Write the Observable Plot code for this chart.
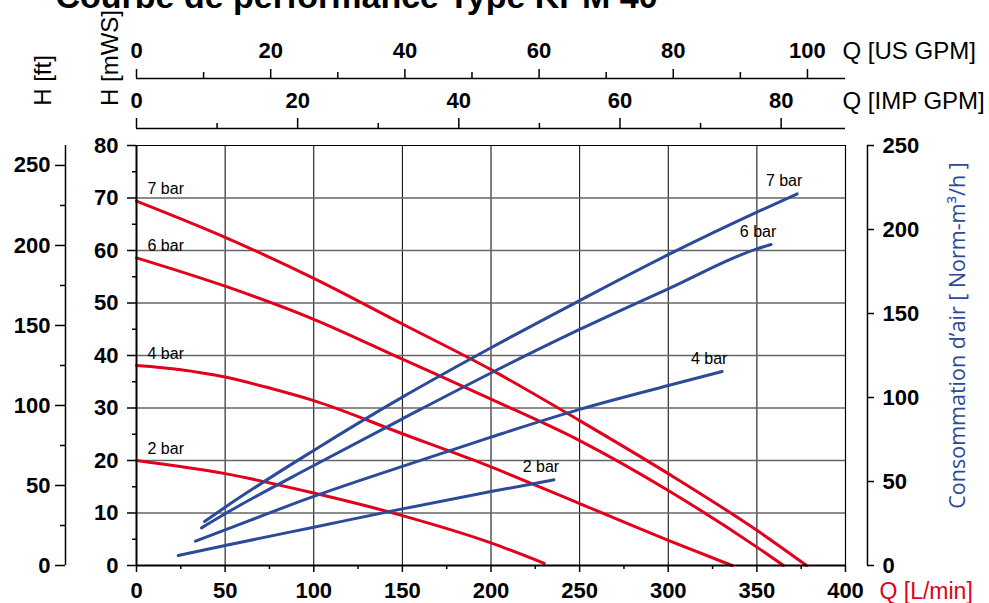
<!DOCTYPE html>
<html><head><meta charset="utf-8">
<script src="https://cdn.jsdelivr.net/npm/d3@7"></script>
<script src="https://cdn.jsdelivr.net/npm/@observablehq/plot@0.6"></script>
<style>body{margin:0;background:#fff;} #chart svg{display:block;}</style>
</head><body><div id="chart"></div>
<script>
// ---------- texts ----------
const title = "Courbe de performance Type KPM 40";
const labelQ = "Q [L/min]";
const labelUS = "Q [US GPM]";
const labelIMP = "Q [IMP GPM]";
const labelFt = "H [ft]";
const labelM = "H [mWS]";
const labelAir = "Consommation d’air [ Norm-m³/h ]";
const pressures = ["7 bar", "6 bar", "4 bar", "2 bar"];

// ---------- head curves [Q L/min, H mWS] ----------
const head7 = [[0,69.4],[50,62.5],[100,54.7],[150,46.0],[200,37.3],[250,27.6],[300,17.5],[350,6.7],[378,0]];
const head6 = [[0,58.6],[50,53.2],[100,46.9],[150,39.3],[200,31.7],[250,23.8],[300,14.3],[350,3.5],[365,0]];
const head4 = [[0,38.1],[25,37.3],[50,35.9],[75,33.8],[100,31.4],[150,25.1],[190,20.1],[250,11.8],[300,4.8],[336,0]];
const head2 = [[0,20.0],[50,17.5],[100,13.8],[150,9.5],[200,4.3],[230,0.4]];

// ---------- air consumption curves [Q L/min, Nm3/h] ----------
const air7 = [[38.4,26.2],[50,34.7],[100,68.5],[150,100.2],[200,129.6],[250,157.7],[300,185.0],[350,210.3],[372.7,221.2]];
const air6 = [[36.7,22.4],[50,30.8],[100,59.5],[150,87.3],[200,114.6],[250,140.5],[300,164.7],[350,188.5],[358,191.1]];
const air4 = [[33.3,14.5],[50,21.2],[100,41.1],[150,59.0],[200,76.4],[250,92.9],[300,107.1],[330.4,115.5]];
const air2 = [[23.5,6.0],[50,11.9],[100,22.8],[150,33.7],[200,44.0],[235.5,51.0]];

// ---------- ticks ----------
const qTicks = [0,50,100,150,200,250,300,350,400];
const qMinor = [25,75,125,175,225,275,325,375];
const hTicks = [0,10,20,30,40,50,60,70,80];
const hMinor = [5,15,25,35,45,55,65,75];
const ftTicks = [0,50,100,150,200,250];
const ftMinor = [25,75,125,175,225];
const usTicks = [0,20,40,60,80,100];
const usMinor = [10,30,50,70,90];
const impTicks = [0,20,40,60,80];
const impMinor = [10,30,50,70];
const airTicks = [0,50,100,150,200,250];

// ---------- unit conversions ----------
const L_PER_USGAL = 3.78541;
const L_PER_IMPGAL = 4.54609;
const M_PER_FT = 0.3048;
const AIR_PER_M = 250 / 80; // right axis 0..250 spans 0..80 mWS

// ---------- layout (in scale units) ----------
const US_Y = 92.76;   // top US GPM axis line
const IMP_Y = 83.24;  // top IMP GPM axis line
const FT_X = -40.06;  // far-left feet axis line
const AIR_X = 412.4;  // right air axis line

const RED = "#e3001b", BLUE = "#2c4a9a";

const headSets = [head7, head6, head4, head2];
const airSets = [air7, air6, air4, air2];
const headRows = headSets.flatMap((s, i) => s.map(([q, h]) => ({bar: pressures[i], q, h})));
const airRows = airSets.flatMap((s, i) => s.map(([q, a]) => ({bar: pressures[i], q, a})));
const headLabels = headSets.map((s, i) => ({bar: pressures[i], q: s[0][0], h: s[0][1]}));
const airLabels = airSets.map((s, i) => ({bar: pressures[i], q: s[s.length-1][0], a: s[s.length-1][1]}));

const bold = {fontSize: 22, fontWeight: "bold", fill: "#000"};

const chart = Plot.plot({
  width: 989, height: 603,
  marginLeft: 136, marginRight: 144, marginTop: 145, marginBottom: 38,
  x: {domain: [0, 400], axis: null},
  y: {domain: [0, 80], axis: null},
  style: {fontFamily: "'Liberation Sans', Arial, sans-serif", background: "#fff", color: "#000"},
  marks: [
    // grid
    Plot.ruleX(qTicks.slice(1, -1), {stroke: "#000", strokeWidth: 1}),
    Plot.ruleY(hTicks.slice(1, -1), {stroke: "#666", strokeWidth: 1.3}),
    // curves
    Plot.line(headRows, {x: "q", y: "h", z: "bar", stroke: RED, strokeWidth: 3, curve: "monotone-x"}),
    Plot.line(airRows, {x: "q", y: d => d.a / AIR_PER_M, z: "bar", stroke: BLUE, strokeWidth: 3, curve: "monotone-x"}),
    // frame
    Plot.ruleY([80], {stroke: "#000", strokeWidth: 1.2}),
    Plot.ruleX([400], {stroke: "#000", strokeWidth: 1.2}),
    Plot.ruleY([0], {stroke: "#000", strokeWidth: 2}),
    Plot.ruleX([0], {stroke: "#000", strokeWidth: 2}),
    // bottom Q axis
    Plot.ruleX(qTicks, {x: d => d, y1: 0, y2: 0, insetBottom: -7, stroke: "#000", strokeWidth: 1.5}),
    Plot.ruleX(qMinor, {x: d => d, y1: 0, y2: 0, insetBottom: -4, stroke: "#000", strokeWidth: 1.5}),
    Plot.text(qTicks, {x: d => d, y: 0, dy: 25, text: d => String(d), ...bold}),
    Plot.text([labelQ], {x: 400, y: 0, dx: 34, dy: 26, text: d => d, textAnchor: "start", fontSize: 23, fill: RED}),
    // left mWS axis
    Plot.ruleY(hTicks, {y: d => d, x1: 0, x2: 0, insetLeft: -9, stroke: "#000", strokeWidth: 1.5}),
    Plot.ruleY(hMinor, {y: d => d, x1: 0, x2: 0, insetLeft: -4, stroke: "#000", strokeWidth: 1.5}),
    Plot.text(hTicks, {x: 0, y: d => d, dx: -18, text: d => String(d), textAnchor: "end", ...bold}),
    // far-left feet axis
    Plot.ruleX([FT_X], {stroke: "#000", strokeWidth: 1.5}),
    Plot.ruleY(ftTicks, {y: d => d * M_PER_FT, x1: FT_X, x2: FT_X, insetLeft: -10, stroke: "#000", strokeWidth: 1.5}),
    Plot.ruleY(ftMinor, {y: d => d * M_PER_FT, x1: FT_X, x2: FT_X, insetLeft: -5, stroke: "#000", strokeWidth: 1.5}),
    Plot.text(ftTicks, {x: FT_X, y: d => d * M_PER_FT, dx: -15, text: d => String(d), textAnchor: "end", ...bold}),
    // right air axis
    Plot.ruleX([AIR_X], {stroke: "#000", strokeWidth: 1.5}),
    Plot.ruleY(airTicks, {y: d => d / AIR_PER_M, x1: AIR_X, x2: AIR_X, insetRight: -7, stroke: "#000", strokeWidth: 1.5}),
    Plot.text(airTicks, {x: AIR_X, y: d => d / AIR_PER_M, dx: 15, text: d => String(d), textAnchor: "start", ...bold}),
    Plot.text([labelAir], {frameAnchor: "right", dx: 113, dy: -20, rotate: -90, textAnchor: "middle", text: d => d, fontSize: 21.5, fill: BLUE, fontFamily: "'Open Sans', sans-serif"}),
    // top US GPM axis
    Plot.ruleY([US_Y], {stroke: "#000", strokeWidth: 1.5}),
    Plot.ruleX(usTicks, {x: d => d * L_PER_USGAL, y1: US_Y, y2: US_Y, insetTop: -9, stroke: "#000", strokeWidth: 1.5}),
    Plot.ruleX(usMinor, {x: d => d * L_PER_USGAL, y1: US_Y, y2: US_Y, insetTop: -6, stroke: "#000", strokeWidth: 1.5}),
    Plot.text(usTicks, {x: d => d * L_PER_USGAL, y: US_Y, dy: -28, text: d => String(d), ...bold}),
    Plot.text([labelUS], {x: 400, y: US_Y, dx: -3, dy: -27, text: d => d, textAnchor: "start", fontSize: 24, fill: "#000"}),
    // top IMP GPM axis
    Plot.ruleY([IMP_Y], {stroke: "#000", strokeWidth: 1.5}),
    Plot.ruleX(impTicks, {x: d => d * L_PER_IMPGAL, y1: IMP_Y, y2: IMP_Y, insetTop: -10, stroke: "#000", strokeWidth: 1.5}),
    Plot.ruleX(impMinor, {x: d => d * L_PER_IMPGAL, y1: IMP_Y, y2: IMP_Y, insetTop: -5, stroke: "#000", strokeWidth: 1.5}),
    Plot.text(impTicks, {x: d => d * L_PER_IMPGAL, y: IMP_Y, dy: -28, text: d => String(d), ...bold}),
    Plot.text([labelIMP], {x: 400, y: IMP_Y, dx: -3, dy: -27, text: d => d, textAnchor: "start", fontSize: 24, fill: "#000"}),
    // left rotated titles
    Plot.text([labelFt], {x: FT_X, y: US_Y, dx: -22, dy: 2, rotate: -90, text: d => d, fontSize: 24, fill: "#000"}),
    Plot.text([labelM], {x: 0, y: US_Y, dx: -26.5, dy: -20.5, rotate: -90, text: d => d, fontSize: 24, fill: "#000"}),
    // curve labels
    Plot.text(headLabels, {x: "q", y: "h", dx: 11, dy: -12, text: "bar", textAnchor: "start", fontSize: 16, fill: "#000"}),
    Plot.text(airLabels, {x: "q", y: d => d.a / AIR_PER_M, dx: -13, dy: -13, text: "bar", fontSize: 16, fill: "#000"}),
    // title (cut off at top as in the original)
    Plot.text([title], {x: 0, y: US_Y, dx: -81, dy: -81, text: d => d, textAnchor: "start", fontSize: 34, fontWeight: "bold", fill: "#000"})
  ]
});
document.getElementById("chart").appendChild(chart);
</script>
</body></html>
